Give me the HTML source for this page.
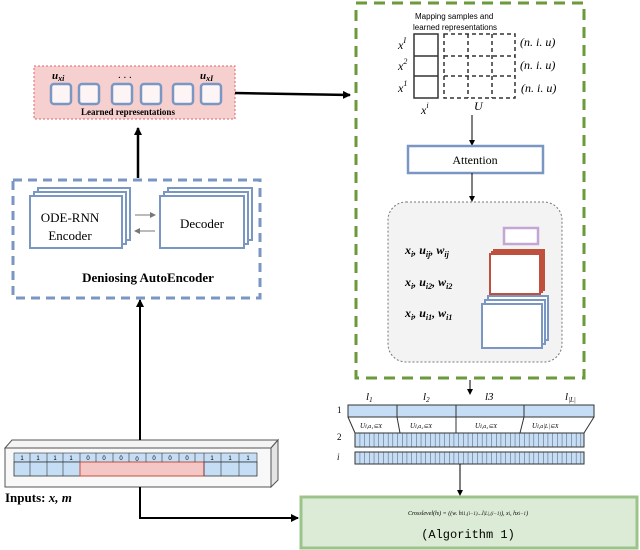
<!DOCTYPE html>
<html><head><style>body{margin:0;background:#fff}svg{display:block}</style></head><body>
<svg width="640" height="550" viewBox="0 0 640 550" xmlns="http://www.w3.org/2000/svg" font-family="Liberation Serif, serif">
<defs>
<marker id="ah" markerWidth="8" markerHeight="8" refX="7" refY="4" orient="auto" markerUnits="userSpaceOnUse"><path d="M0,0 L8,4 L0,8 z" fill="#000"/></marker>
<marker id="ahs" markerWidth="6" markerHeight="6" refX="5" refY="3" orient="auto" markerUnits="userSpaceOnUse"><path d="M0,0 L6,3 L0,6 z" fill="#000"/></marker>
<marker id="ahg" markerWidth="6" markerHeight="6" refX="5" refY="3" orient="auto" markerUnits="userSpaceOnUse"><path d="M0,0 L6,3 L0,6 z" fill="#777"/></marker>
</defs>
<!-- learned representations -->
<rect x="34" y="66" width="201" height="53" fill="#f6cfcf" stroke="#d66" stroke-dasharray="2,2"/>
<g fill="#fdf5f5" stroke="#7a97c4" stroke-width="2.5">
<rect x="51" y="84" width="20" height="20" rx="3"/><rect x="79" y="84" width="20" height="20" rx="3"/>
<rect x="112" y="84" width="20" height="20" rx="3"/><rect x="141" y="84" width="20" height="20" rx="3"/>
<rect x="173" y="84" width="20" height="20" rx="3"/><rect x="201" y="84" width="20" height="20" rx="3"/>
</g>
<text x="52" y="79" font-size="11" font-style="italic" font-weight="bold">u<tspan font-size="8" dy="2">xi</tspan></text>
<text x="118" y="78" font-size="11">. . .</text>
<text x="200" y="79" font-size="11" font-style="italic" font-weight="bold">u<tspan font-size="8" dy="2">xI</tspan></text>
<text x="128" y="115" font-size="9" font-weight="bold" text-anchor="middle">Learned representations</text>
<line x1="235" y1="93" x2="350" y2="95" stroke="#000" stroke-width="2.5" marker-end="url(#ah)"/>
<line x1="138" y1="178" x2="138" y2="128" stroke="#000" stroke-width="2.5" marker-end="url(#ah)"/>
<!-- autoencoder -->
<rect x="13" y="180" width="247" height="118" fill="none" stroke="#7a97c4" stroke-width="3" stroke-dasharray="9,6"/>
<g fill="#fff" stroke="#7a97c4" stroke-width="2">
<rect x="38" y="188" width="92" height="52"/><rect x="34" y="192" width="92" height="52"/><rect x="30" y="196" width="92" height="52"/>
<rect x="168" y="188" width="84" height="52"/><rect x="164" y="192" width="84" height="52"/><rect x="160" y="196" width="84" height="52"/>
</g>
<text x="70" y="222" font-size="13" text-anchor="middle">ODE-RNN</text>
<text x="70" y="240" font-size="13" text-anchor="middle">Encoder</text>
<text x="202" y="228" font-size="13" text-anchor="middle">Decoder</text>
<line x1="135" y1="215" x2="155" y2="215" stroke="#777" marker-end="url(#ahg)"/>
<line x1="155" y1="231" x2="135" y2="231" stroke="#777" marker-end="url(#ahg)"/>
<text x="148" y="282" font-size="13" font-weight="bold" text-anchor="middle">Deniosing AutoEncoder</text>
<!-- green dashed -->
<rect x="356" y="3" width="228" height="375" fill="none" stroke="#6a9a3a" stroke-width="3" stroke-dasharray="11,7"/>
<text x="415" y="19" font-size="8" font-family="Liberation Sans, sans-serif">Mapping samples and</text>
<text x="413" y="30" font-size="8" font-family="Liberation Sans, sans-serif">learned representations</text>
<g fill="none" stroke="#333" stroke-width="1.5">
<rect x="414" y="34" width="24" height="64"/><line x1="414" y1="56" x2="438" y2="56"/><line x1="414" y1="76" x2="438" y2="76"/>
</g>
<g fill="none" stroke="#333" stroke-width="1.5" stroke-dasharray="4,3">
<rect x="444" y="34" width="71" height="64"/><line x1="468" y1="34" x2="468" y2="98"/><line x1="492" y1="34" x2="492" y2="98"/>
<line x1="444" y1="56" x2="515" y2="56"/><line x1="444" y1="76" x2="515" y2="76"/>
</g>
<g font-size="12" font-style="italic">
<text x="398" y="49">x<tspan font-size="8" dy="-6">I</tspan></text>
<text x="398" y="70">x<tspan font-size="8" dy="-6">2</tspan></text>
<text x="398" y="92">x<tspan font-size="8" dy="-6">1</tspan></text>
<text x="421" y="114">x<tspan font-size="8" dy="-6">i</tspan></text>
<text x="474" y="110">U</text>
<text x="520" y="46">(n. i. u)</text>
<text x="520" y="69">(n. i. u)</text>
<text x="521" y="92">(n. i. u)</text>
</g>
<line x1="472" y1="115" x2="472" y2="145" stroke="#000" marker-end="url(#ahs)"/>
<rect x="408" y="146" width="135" height="27" fill="#fff" stroke="#7a97c4" stroke-width="2.5"/>
<text x="475" y="164" font-size="12" text-anchor="middle">Attention</text>
<line x1="472" y1="173" x2="472" y2="201" stroke="#000" marker-end="url(#ahs)"/>
<rect x="388" y="202" width="174" height="160" rx="18" fill="#f3f3f3" stroke="#777" stroke-dasharray="2,2"/>
<g font-size="12" font-style="italic" font-weight="bold">
<text x="405" y="254">x<tspan font-size="8" dy="3">i</tspan><tspan dy="-3">, u</tspan><tspan font-size="8" dy="3">ij</tspan><tspan dy="-3">, w</tspan><tspan font-size="8" dy="3">ij</tspan></text>
<text x="405" y="286">x<tspan font-size="8" dy="3">i</tspan><tspan dy="-3">, u</tspan><tspan font-size="8" dy="3">i2</tspan><tspan dy="-3">, w</tspan><tspan font-size="8" dy="3">i2</tspan></text>
<text x="405" y="317">x<tspan font-size="8" dy="3">i</tspan><tspan dy="-3">, u</tspan><tspan font-size="8" dy="3">i1</tspan><tspan dy="-3">, w</tspan><tspan font-size="8" dy="3">i1</tspan></text>
</g>
<rect x="504" y="228" width="34" height="16" fill="#fff" stroke="#c3a6d3" stroke-width="2.5"/>
<g fill="#fff" stroke="#c0503e" stroke-width="2">
<rect x="494" y="250" width="50" height="40"/><rect x="492" y="252" width="50" height="40"/><rect x="490" y="254" width="50" height="40"/>
</g>
<g fill="#fff" stroke="#7a97c4" stroke-width="2">
<rect x="488" y="296" width="60" height="44"/><rect x="485" y="300" width="60" height="44"/><rect x="482" y="304" width="60" height="44"/>
</g>
<line x1="470" y1="380" x2="470" y2="394" stroke="#000" marker-end="url(#ahs)"/>
<!-- levels -->
<g font-size="11" font-style="italic">
<text x="366" y="400">l<tspan font-size="7" dy="2">1</tspan></text>
<text x="423" y="400">l<tspan font-size="7" dy="2">2</tspan></text>
<text x="485" y="400">l3</text>
<text x="565" y="400">l<tspan font-size="7" dy="2">|L|</tspan></text>
</g>
<g font-size="9"><text x="337" y="413">1</text><text x="337" y="440">2</text><text x="337" y="460" font-style="italic">i</text></g>
<rect x="348" y="405" width="246" height="12" fill="#c5def5" stroke="#333"/>
<g stroke="#333"><line x1="397" y1="405" x2="397" y2="417"/><line x1="456" y1="405" x2="456" y2="417"/><line x1="524" y1="405" x2="524" y2="417"/>
<path d="M348,417 L355,433 M594,417 L584,433 M397,417 L400,433 M456,417 L456,433 M524,417 L520,433" fill="none"/></g>
<g font-size="7" font-style="italic">
<text x="360" y="428">U<tspan font-size="6">i,a₁⊆X</tspan></text>
<text x="410" y="428">U<tspan font-size="6">i,a₂⊆X</tspan></text>
<text x="475" y="428">U<tspan font-size="6">i,a₃⊆X</tspan></text>
<text x="532" y="428">U<tspan font-size="6">i,a|L|⊆X</tspan></text>
</g>
<defs><pattern id="cells" x="355" width="4.7" height="20" patternUnits="userSpaceOnUse"><rect width="4.7" height="20" fill="#c5def5"/><line x1="0" y1="0" x2="0" y2="20" stroke="#334" stroke-width="0.8"/></pattern></defs>
<rect x="355" y="433" width="229" height="14" fill="url(#cells)" stroke="#333"/>
<rect x="355" y="452" width="229" height="12" fill="url(#cells)" stroke="#333"/>
<line x1="460" y1="464" x2="460" y2="495" stroke="#000" marker-end="url(#ahs)"/>
<!-- algorithm box -->
<rect x="301" y="497" width="336" height="51" fill="#dcebd6" stroke="#9cc48a" stroke-width="3"/>
<text x="468" y="515" font-size="6" text-anchor="middle" font-style="italic">Crosslevel(h<tspan font-size="4">l</tspan>) = ((w. h<tspan font-size="5">l1,(i−1)</tspan>...l<tspan font-size="5">|L|,(i−1)</tspan>), x<tspan font-size="5">i</tspan>, hx<tspan font-size="5">i−1</tspan>)</text>
<text x="468" y="538" font-size="12" text-anchor="middle" font-family="Liberation Mono, monospace">(Algorithm 1)</text>
<!-- inputs -->
<path d="M5,448 L12,440 L278,440 L271,448 Z" fill="#f4f4f4" stroke="#555"/>
<path d="M271,448 L278,440 L278,480 L271,487 Z" fill="#e4e4e4" stroke="#555"/>
<rect x="5" y="448" width="266" height="39" fill="#f8f8f8" stroke="#555"/>
<rect x="14" y="453" width="243" height="9" fill="#c5def5" stroke="#333" stroke-width="0.6"/>
<rect x="14" y="462" width="243" height="14" fill="#c5def5" stroke="#333" stroke-width="0.8"/>
<rect x="80" y="462" width="124" height="14" fill="#f4c6c6" stroke="#c0503e"/>
<g stroke="#333" stroke-width="0.6">
<line x1="30" y1="453" x2="30" y2="476"/><line x1="47" y1="453" x2="47" y2="476"/><line x1="63" y1="453" x2="63" y2="476"/>
<line x1="80" y1="453" x2="80" y2="462"/><line x1="96" y1="453" x2="96" y2="462"/><line x1="113" y1="453" x2="113" y2="462"/><line x1="129" y1="453" x2="129" y2="462"/><line x1="146" y1="453" x2="146" y2="462"/><line x1="162" y1="453" x2="162" y2="462"/><line x1="179" y1="453" x2="179" y2="462"/><line x1="195" y1="453" x2="195" y2="462"/>
<line x1="204" y1="453" x2="204" y2="476"/><line x1="221" y1="453" x2="221" y2="476"/><line x1="239" y1="453" x2="239" y2="476"/>
</g>
<g font-size="6" font-family="Liberation Sans, sans-serif" text-anchor="middle">
<text x="22" y="460">1</text><text x="38" y="460">1</text><text x="55" y="460">1</text><text x="71" y="460">1</text>
<text x="88" y="460">0</text><text x="104" y="460">0</text><text x="121" y="460">0</text><text x="137" y="461">0</text><text x="154" y="460">0</text><text x="170" y="460">0</text><text x="187" y="460">0</text>
<text x="212" y="460">1</text><text x="230" y="460">1</text><text x="248" y="460">1</text>
</g>
<text x="5" y="502" font-size="13" font-weight="bold">Inputs: <tspan font-style="italic">x, m</tspan></text>
<line x1="140" y1="440" x2="140" y2="300" stroke="#000" stroke-width="2" marker-end="url(#ah)"/>
<path d="M140,487 L140,518 L298,518" fill="none" stroke="#000" stroke-width="2" marker-end="url(#ah)"/>
</svg>
</body></html>
